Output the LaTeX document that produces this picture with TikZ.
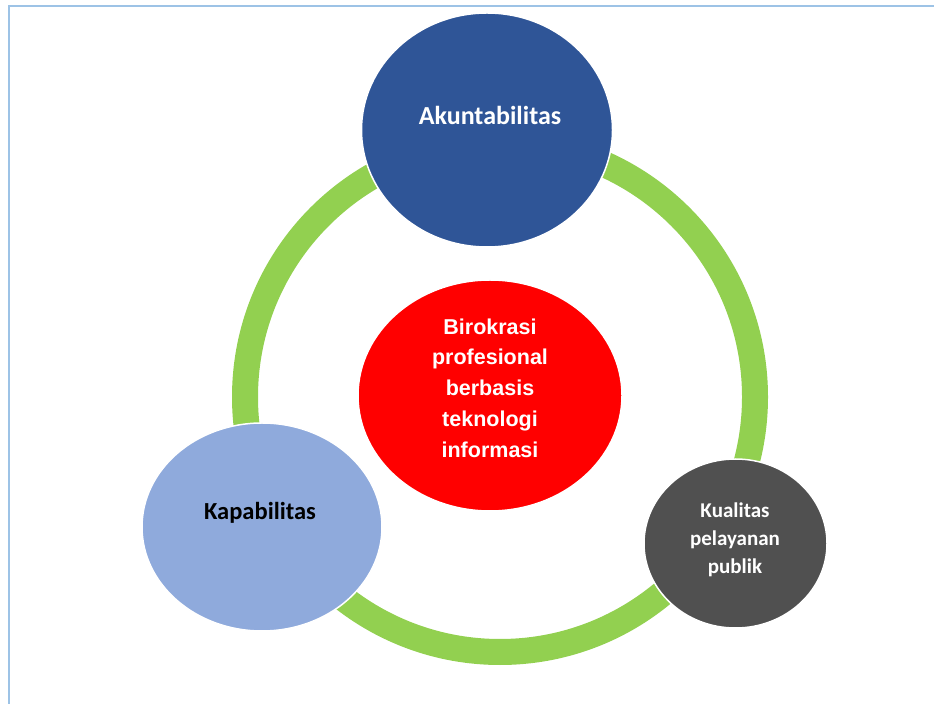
\documentclass[tikz,border=0pt]{standalone}
\usepackage{fontspec}
\setmainfont{Carlito}
\newfontfamily\arialfont{Liberation Sans}
\usetikzlibrary{shapes.geometric}

\definecolor{ringgreen}{HTML}{92D050}
\definecolor{akunblue}{HTML}{2F5597}
\definecolor{kapablue}{HTML}{8FAADC}
\definecolor{kualgray}{HTML}{505050}
\definecolor{framebl}{HTML}{9DC3E6}

\tikzset{
  bubble/.style={ellipse, draw=white, line width=1.5pt, inner sep=0pt},
  bubbletext/.style={align=center, font=\bfseries}
}

\begin{document}
\begin{tikzpicture}[x=1pt,y=1pt]
\useasboundingbox (0,0) rectangle (934,704);

% Bingkai halaman
\draw[framebl, line width=1.6pt] (934,698) -- (8.8,698) -- (8.8,0);

% Cincin hijau
\draw[ringgreen, line width=26pt] (500,307) circle[radius=255];

% Lingkaran luar
\node[bubble, fill=akunblue, minimum width=251pt, minimum height=234pt] (akun) at (487,574) {};
\node[bubble, fill=kapablue, minimum width=240pt, minimum height=208pt] (kapa) at (262,177) {};
\node[bubble, fill=kualgray, minimum width=183pt, minimum height=169pt] (kual) at (735.5,160.5) {};

% Lingkaran tengah
\node[bubble, fill=red, minimum width=264pt, minimum height=231pt] (biro) at (490,308.5) {};

% Teks
\node[bubbletext, text=white, font=\fontsize{26}{30}\selectfont\bfseries] (akuntxt) at (490,588.5) {Akuntabilitas};
\node[bubbletext, text=black, font=\fontsize{24.5}{29}\selectfont\bfseries] (kapatxt) at (260,191) {Kapabilitas};
\node[bubbletext, text=white, font=\fontsize{21}{28}\selectfont\bfseries] (kualtxt) at (735,164) {Kualitas\\pelayanan\\publik};
\node[bubbletext, text=white, font=\arialfont\fontsize{21.5}{30.7}\selectfont\bfseries] (birotxt) at (490,316) {Birokrasi\\profesional\\berbasis\\teknologi\\informasi};
\end{tikzpicture}
\end{document}
